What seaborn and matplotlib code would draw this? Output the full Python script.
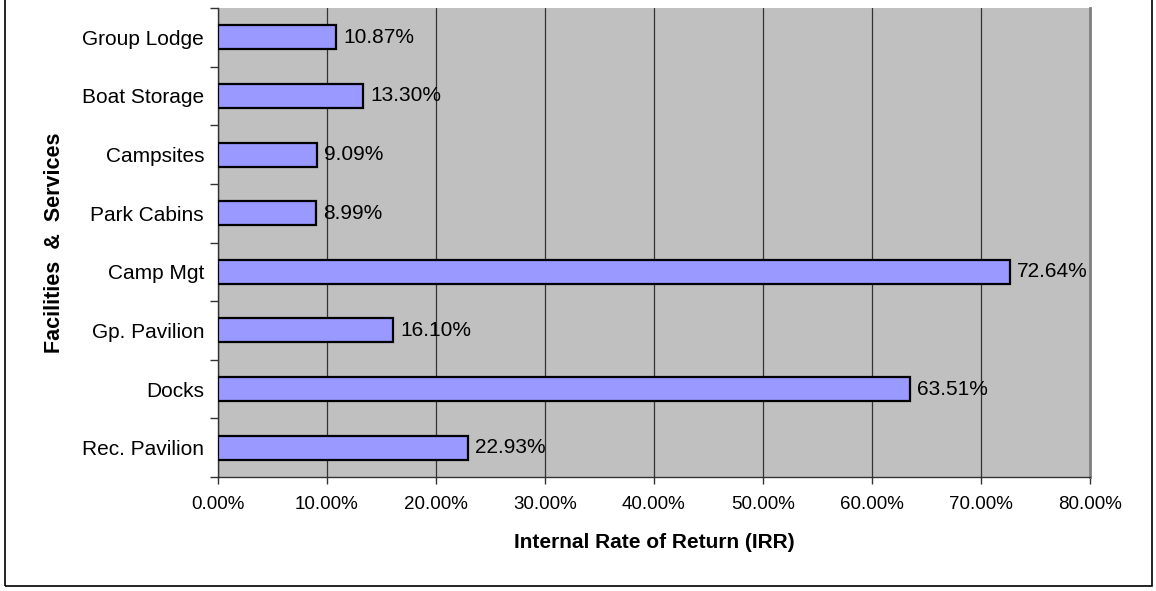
import matplotlib
matplotlib.use("Agg")
import matplotlib.pyplot as plt
from matplotlib.patches import Rectangle
from matplotlib.ticker import FuncFormatter, MultipleLocator
import seaborn as sns
import pandas as pd

facilities = ["Group Lodge", "Boat Storage", "Campsites", "Park Cabins",
              "Camp Mgt", "Gp. Pavilion", "Docks", "Rec. Pavilion"]
irr_pct = [10.87, 13.30, 9.09, 8.99, 72.64, 16.10, 63.51, 22.93]

df = pd.DataFrame({"facility": facilities, "irr": irr_pct})

sns.set_style("white")
plt.rcParams["font.family"] = ["Liberation Sans", "DejaVu Sans"]
plt.rcParams.update({"text.color": "black", "axes.labelcolor": "black",
                     "xtick.color": "black", "ytick.color": "black"})

fig = plt.figure(figsize=(11.56, 5.91), dpi=100)
ax = fig.add_axes([218 / 1156, 114 / 591, 872 / 1156, 469 / 591])
ax.set_facecolor("#C0C0C0")

sns.barplot(data=df, x="irr", y="facility", order=facilities, ax=ax,
            color="#9999FF", saturation=1, width=0.41,
            edgecolor="black", linewidth=1.6, zorder=3)

for i, v in enumerate(irr_pct):
    ax.annotate(f"{v:.2f}%", xy=(v, i), xytext=(5, 0),
                textcoords="offset points", va="center", ha="left",
                fontsize=15, color="black", zorder=4)

ax.set_xlim(0, 80)
ax.set_ylim(len(facilities) - 0.5, -0.5)
ax.xaxis.set_major_locator(MultipleLocator(10))
ax.xaxis.set_major_formatter(FuncFormatter(lambda x, _: f"{x:.2f}%"))
ax.grid(axis="x", color="#333333", linewidth=0.9, zorder=1)
ax.set_axisbelow(True)

# category ticks sit on the boundaries between bars
ax.set_yticks(range(len(facilities)))
ax.set_yticklabels(facilities)
ax.set_yticks([i - 0.5 for i in range(len(facilities) + 1)], minor=True)
ax.tick_params(axis="y", which="major", length=0, pad=10, labelsize=15,
               labelcolor="black")
ax.tick_params(axis="y", which="minor", length=6, width=1, color="#333333",
               direction="out", left=True)
ax.tick_params(axis="x", which="major", length=5, width=1, color="#333333",
               direction="out", bottom=True, pad=9, labelsize=13.5,
               labelcolor="black")

for side in ["left", "bottom"]:
    ax.spines[side].set_color("#333333")
    ax.spines[side].set_linewidth(1)
ax.spines["right"].set_color("#808080")
ax.spines["right"].set_linewidth(2)
ax.spines["top"].set_visible(False)

ax.set_xlabel("Internal Rate of Return (IRR)", fontsize=15, fontweight="bold",
              labelpad=14, color="black")
ax.set_ylabel("Facilities  &  Services", fontsize=15.5, fontweight="bold",
              labelpad=12, color="black")

# outer chart frame
fig.patches.append(Rectangle((5 / 1156, 5 / 591), 1147 / 1156, 1.2,
                             transform=fig.transFigure, fill=False,
                             edgecolor="black", linewidth=1.2))

fig.savefig("out.png", dpi=100)
